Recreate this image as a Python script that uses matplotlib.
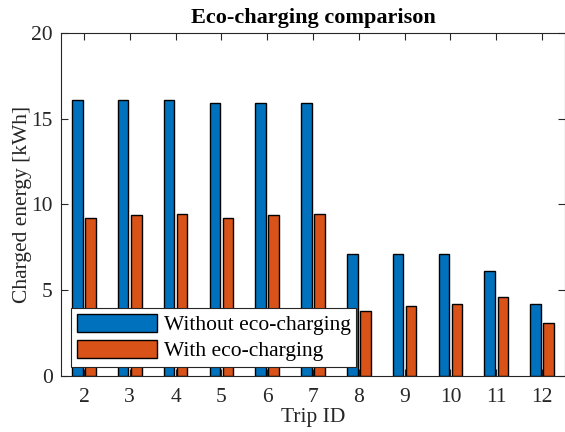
import numpy as np
import matplotlib
matplotlib.use("Agg")
import matplotlib.pyplot as plt

plt.rcParams['font.family'] = ['Liberation Serif', 'DejaVu Serif']

# trip ids and charged energy per trip [kWh]
trips = [2, 3, 4, 5, 6, 7, 8, 9, 10, 11, 12]
without_eco = [16.1, 16.1, 16.1, 15.9, 15.9, 15.9, 7.1, 7.1, 7.1, 6.1, 4.2]
with_eco = [9.2, 9.4, 9.45, 9.2, 9.4, 9.45, 3.8, 4.1, 4.2, 4.6, 3.1]

blue = '#0072BD'
orange = '#D95319'
dark = '#262626'
fs = 15.5

fig = plt.figure(figsize=(5.65, 4.32), dpi=100)
ax = fig.add_axes([61/565, 1 - 376/432, 504/565, 343/432])

x = np.array(trips)
w = 0.229
off = 0.143
ax.bar(x - off, without_eco, width=w, color=blue, edgecolor='k', linewidth=1.0,
       label='Without eco-charging', zorder=2)
ax.bar(x + off, with_eco, width=w, color=orange, edgecolor='k', linewidth=1.0,
       label='With eco-charging', zorder=2)

ax.set_xlim(1.5, 12.5)
ax.set_ylim(0, 20)
ax.set_xticks(trips)
ax.set_yticks([0, 5, 10, 15, 20])
ax.tick_params(direction='in', length=5, width=0.8, top=True, right=True,
               labelsize=fs, colors=dark)
ax.tick_params(axis='x', pad=8.5)
ax.tick_params(axis='y', pad=6)
for s in ax.spines.values():
    s.set_color(dark)
    s.set_linewidth(0.8)

ax.set_title('Eco-charging comparison', fontsize=16, fontweight='bold', pad=7)
ax.set_xlabel('Trip ID', fontsize=fs, color=dark, labelpad=1)
ax.set_ylabel('Charged energy [kWh]', fontsize=fs, color=dark, labelpad=-1)

leg = ax.legend(loc='lower left', bbox_to_anchor=(0.02, 0.026), fontsize=fs,
                fancybox=False, framealpha=1, edgecolor=dark,
                handlelength=3.72, handleheight=0.88, handletextpad=0.33,
                borderpad=0.26, labelspacing=0.23, borderaxespad=0)
leg.get_frame().set_linewidth(0.8)
leg.set_zorder(5)

fig.savefig('out.png', dpi=100)
